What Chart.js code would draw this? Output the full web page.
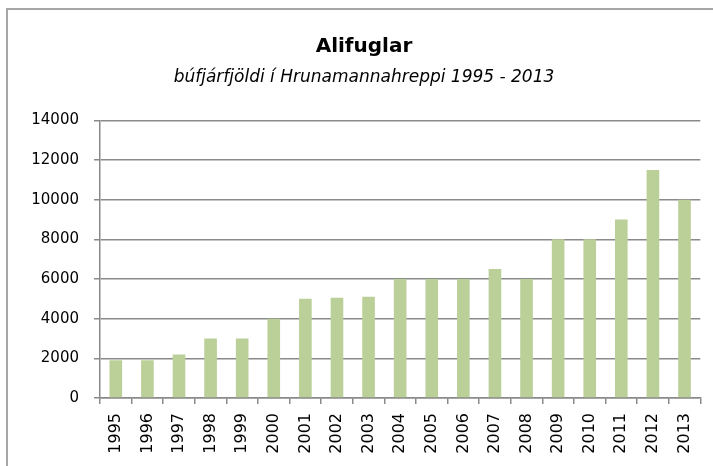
<!DOCTYPE html>
<html>
<head>
<meta charset="utf-8">
<script src="https://cdn.jsdelivr.net/npm/chart.js@4/dist/chart.umd.min.js"></script>
<style>
html,body{margin:0;padding:0;background:#fff;overflow:hidden;}
#wrap{position:relative;width:713px;height:466px;}
#frame{position:absolute;left:6px;top:8px;width:800px;height:600px;border:2px solid #a6a6a6;box-sizing:border-box;pointer-events:none;}
</style>
</head>
<body>
<div id="wrap">
<canvas id="c" width="713" height="466"></canvas>
<div id="frame"></div>
</div>
<script>
const chartTitle = 'Alifuglar';
const chartSubtitle = 'búfjárfjöldi í Hrunamannahreppi 1995 - 2013';
const years = ['1995','1996','1997','1998','1999','2000','2001','2002','2003','2004','2005','2006','2007','2008','2009','2010','2011','2012','2013'];
const poultry = [1900,1900,2200,3000,3000,4000,5000,5050,5100,6000,6000,6000,6500,6000,8000,8000,9000,11500,10000];
const yMin = 0, yMax = 14000, yStep = 2000;

const gridCol = '#8a8a8a';
new Chart(document.getElementById('c'), {
  type: 'bar',
  data: {
    labels: years,
    datasets: [{
      data: poultry,
      backgroundColor: '#bbcf99',
      borderWidth: 0,
      barPercentage: 0.4,
      categoryPercentage: 1.0
    }]
  },
  options: {
    responsive: false,
    animation: false,
    layout: {padding: {left: 26, right: 11, top: 0, bottom: 0}},
    plugins: {
      legend: {display: false},
      tooltip: {enabled: false},
      title: {
        display: true, text: chartTitle, color: '#000',
        font: {family: 'DejaVu Sans', size: 20, weight: 'bold'},
        padding: {top: 35, bottom: 0}
      },
      subtitle: {
        display: true, text: chartSubtitle, color: '#000',
        font: {family: 'DejaVu Sans', size: 17, style: 'italic', weight: 'normal'},
        padding: {top: 8, bottom: 33}
      }
    },
    scales: {
      x: {
        grid: {drawOnChartArea: false, drawTicks: true, tickLength: 6, color: gridCol, lineWidth: 1.5, offset: true},
        border: {color: gridCol, width: 1.5},
        ticks: {minRotation: 90, maxRotation: 90, color: '#000', padding: 9,
                font: {family: 'DejaVu Sans', size: 16}},
        afterFit(scale){ scale.height = 68; }
      },
      y: {
        min: yMin, max: yMax,
        grid: {color: gridCol, lineWidth: 1.5, tickLength: 6, drawTicks: true},
        border: {color: gridCol, width: 1.5},
        ticks: {stepSize: yStep, color: '#000', padding: 15,
                font: {family: 'DejaVu Sans', size: 15},
                callback: (v) => String(v)},
        afterFit(scale){ scale.width = 74; }
      }
    }
  }
});
</script>
</body>
</html>
